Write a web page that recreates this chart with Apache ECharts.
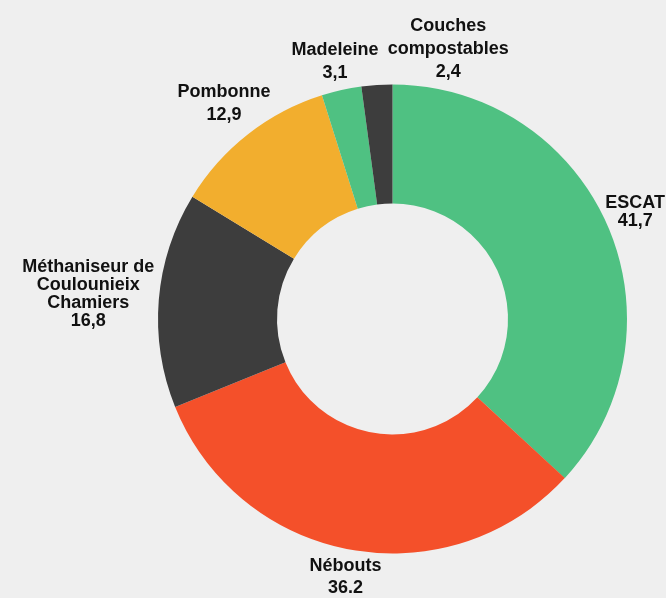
<!DOCTYPE html>
<html>
<head>
<meta charset="utf-8">
<script src="https://cdn.jsdelivr.net/npm/echarts@6/dist/echarts.min.js"></script>
<style>
html,body{margin:0;padding:0;background:#efefef;}
#chart{width:666px;height:598px;}
</style>
</head>
<body>
<div id="chart"></div>
<script>
// ---- data ----
var categories = ['ESCAT', 'Nébouts', 'Méthaniseur de Coulounieix Chamiers', 'Pombonne', 'Madeleine', 'Couches compostables'];
var labelNames = ['ESCAT', 'Nébouts', 'Méthaniseur de\nCoulounieix\nChamiers', 'Pombonne', 'Madeleine', 'Couches\ncompostables'];
var values = [41.7, 36.2, 16.8, 12.9, 3.1, 2.4];
var valueLabels = ['41,7', '36.2', '16,8', '12,9', '3,1', '2,4'];

// ---- styles ----
var colors = ['#4fc182', '#f4502a', '#3d3d3d', '#f2ae2e', '#4fc182', '#3d3d3d'];
var lineHeights = [18, 22, 18, 23, 23, 23];
var CX = 392.5, CY = 319, R_IN = 115.5, R_OUT = 234.5, W = 666;

var total = values.reduce(function (a, b) { return a + b; }, 0);
var midAngles = [];
(function () {
  var acc = 0;
  for (var i = 0; i < values.length; i++) {
    midAngles.push((acc + values[i] / 2) / total * 360);
    acc += values[i];
  }
})();

var placed = [];
function rectFor(angleDeg, w, h) {
  var t = angleDeg * Math.PI / 180;
  var s = Math.sin(t), c = Math.cos(t);
  var sup = Math.sqrt(Math.pow(w / 2 * s, 2) + Math.pow(h / 2 * c, 2));
  var d = R_OUT + sup + 5;
  var x = CX + d * s, y = CY - d * c;
  // keep inside the canvas horizontally
  if (x + w / 2 > W - 1) x = W - 1 - w / 2;
  if (x - w / 2 < 1) x = 1 + w / 2;
  return {x: x, y: y, l: x - w / 2, r: x + w / 2, t: y - h / 2, b: y + h / 2};
}
function overlaps(a, b, m) {
  return !(a.r + m <= b.l || b.r + m <= a.l || a.b + m <= b.t || b.b + m <= a.t);
}

var chart = echarts.init(document.getElementById('chart'), null, {renderer: 'canvas'});
var data = categories.map(function (name, i) {
  return {
    name: name,
    value: values[i],
    itemStyle: {color: colors[i]},
    label: {lineHeight: lineHeights[i]}
  };
});

chart.setOption({
  backgroundColor: '#efefef',
  animation: false,
  series: [{
    type: 'pie',
    center: [CX, CY],
    radius: [R_IN, R_OUT],
    startAngle: 90,
    clockwise: true,
    avoidLabelOverlap: false,
    data: data,
    label: {
      show: true,
      position: 'outside',
      formatter: function (p) { return labelNames[p.dataIndex] + '\n' + valueLabels[p.dataIndex]; },
      fontFamily: '"Liberation Sans", Arial, sans-serif',
      fontWeight: 'bold',
      fontSize: 18,
      color: '#111111',
      align: 'center'
    },
    labelLine: {show: false},
    labelLayout: function (params) {
      var i = params.dataIndex;
      if (i === 0) placed = [];
      var w = params.labelRect.width, h = params.labelRect.height;
      var ang = midAngles[i];
      var rc = rectFor(ang, w, h);
      var guard = 0;
      while (guard < 200 && placed.some(function (p) { return overlaps(rc, p, 8); })) {
        ang += 0.5;
        rc = rectFor(ang, w, h);
        guard++;
      }
      placed.push(rc);
      return {x: rc.x, y: rc.y, align: 'center', verticalAlign: 'middle'};
    }
  }]
});
</script>
</body>
</html>
